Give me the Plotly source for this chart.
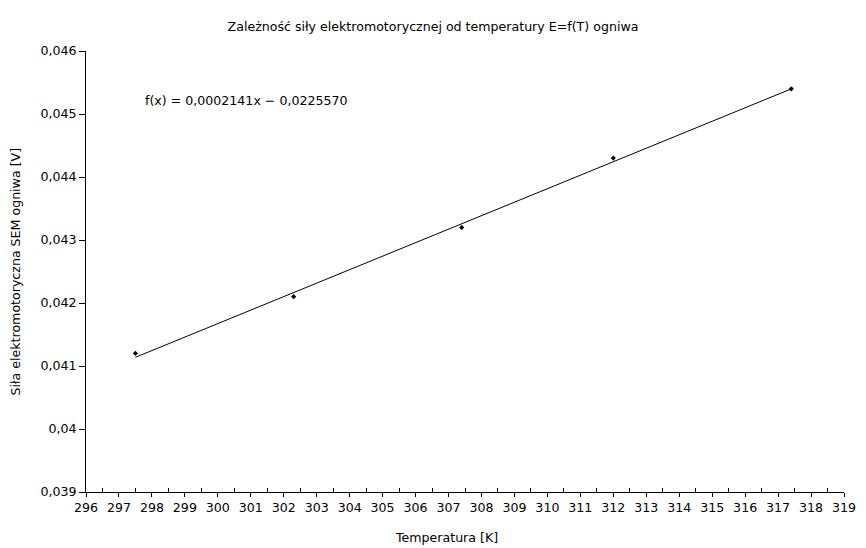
import plotly.graph_objects as go

temperature = [297.5, 302.3, 307.4, 312.0, 317.4]
sem = [0.0412, 0.0421, 0.0432, 0.0443, 0.0454]
slope = 0.0002141
intercept = -0.0225570
trend_label = "f(x) = 0,0002141x − 0,0225570"

x_line = [min(temperature), max(temperature)]
y_line = [slope * x + intercept for x in x_line]

font = "DejaVu Sans, sans-serif"
fs = 12.6
W, H = 858, 540  # page body has 8px margin in the browser window

fig = go.Figure()
fig.add_trace(go.Scatter(x=x_line, y=y_line, mode="lines",
                         line=dict(color="black", width=1), showlegend=False, hoverinfo="skip"))
fig.add_trace(go.Scatter(x=temperature, y=sem, mode="markers",
                         marker=dict(symbol="diamond", size=4, color="black"), showlegend=False))

fig.add_annotation(x=297.73, y=0.04521, text=trend_label, showarrow=False,
                   xanchor="left", yanchor="middle", font=dict(family=font, size=fs, color="black"))

# axis titles as annotations to place them exactly as in the reference
fig.add_annotation(x=0.476, y=0, xref="paper", yref="paper", yshift=-45,
                   text="Temperatura [K]", showarrow=False, xanchor="center", yanchor="middle",
                   font=dict(family=font, size=fs, color="black"))
fig.add_annotation(x=0, y=0.5, xref="paper", yref="paper", xshift=-71, textangle=-90,
                   text="Siła elektromotoryczna SEM ogniwa [V]", showarrow=False,
                   xanchor="center", yanchor="middle", borderpad=0,
                   font=dict(family=font, size=fs, color="black"))

fig.update_layout(
    width=W, height=H,
    margin=dict(l=78, r=22, t=43, b=56, autoexpand=False),
    paper_bgcolor="white", plot_bgcolor="white",
    separators=", ",
    font=dict(family=font, size=fs, color="black"),
    title=dict(text="Zależność siły elektromotorycznej od temperatury E=f(T) ogniwa",
               x=(433 - 8) / W, xanchor="center", y=1 - 19 / H, yanchor="middle",
               font=dict(family=font, size=fs, color="black")),
    xaxis=dict(range=[296, 319], dtick=1, tick0=296, showgrid=False, zeroline=False,
               showline=True, linecolor="black", linewidth=1, automargin=False,
               ticks="outside", ticklen=4, tickcolor="black",
               minor=dict(ticks="inside", dtick=1, tick0=296.5, ticklen=4, tickcolor="black", showgrid=False)),
    yaxis=dict(range=[0.039, 0.046], dtick=0.001, tick0=0.039, showgrid=False, zeroline=False,
               showline=True, linecolor="black", linewidth=1, automargin=False,
               ticks="outside", ticklen=6, tickcolor="black", tickformat=".3~f"),
)

fig.write_html("out.html")
